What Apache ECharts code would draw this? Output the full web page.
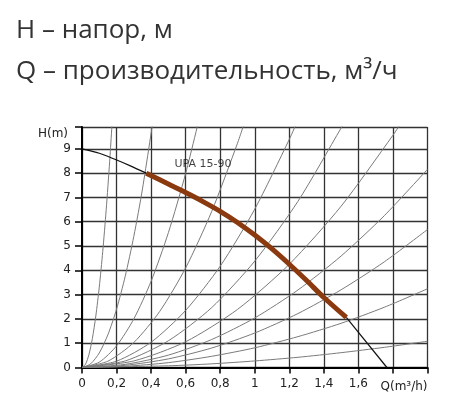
<!DOCTYPE html>
<html><head><meta charset="utf-8">
<script src="https://cdn.jsdelivr.net/npm/echarts@6/dist/echarts.min.js"></script>
<style>html,body{margin:0;padding:0;background:#fff}#c{width:450px;height:405px}</style>
</head><body><div id="c"></div>
<script>
// ---- text ----
const titleLines = ['H – напор, м', 'Q – производительность, м³/ч'];
const yAxisName = 'H(m)';
const xAxisName = 'Q(m³/h)';
const pumpName = 'UPA 15-90';
const pumpLabelAt = [0.70, 8.38];

// ---- tick labels ----
const xTickLabels = ['0', '0,2', '0,4', '0,6', '0,8', '1', '1,2', '1,4', '1,6', '', ''];
const yTickLabels = ['0', '1', '2', '3', '4', '5', '6', '7', '8', '9'];

// ---- pump curve (Q m3/h, H m) ----
const pumpStart = [[0, 9], [0.1, 8.82], [0.19, 8.57], [0.28, 8.3], [0.372, 8.0]];
const pumpWork = [[0.372, 8.0], [0.5, 7.55], [0.6, 7.2], [0.7, 6.83], [0.8, 6.43], [0.9, 5.97], [1.0, 5.45],
                  [1.1, 4.88], [1.2, 4.25], [1.3, 3.58], [1.4, 2.88], [1.53, 2.06]];
const pumpEnd = [[1.53, 2.06], [1.765, 0]];

// ---- system (resistance) curves ----
const sys1 = [[0, 0], [0.02, 0.13], [0.04, 0.53], [0.06, 1.19], [0.08, 2.12], [0.1, 3.31], [0.12, 4.77], [0.14, 6.49], [0.16, 8.47], [0.18, 10.72]];
const sys2 = [[0, 0], [0.05, 0.15], [0.1, 0.6], [0.15, 1.35], [0.2, 2.4], [0.25, 3.75], [0.3, 5.4], [0.35, 7.35], [0.42, 10.58]];
const sys3 = [[0, 0], [0.1, 0.22], [0.2, 0.89], [0.3, 2.0], [0.4, 3.55], [0.5, 5.55], [0.6, 7.99], [0.7, 10.88]];
const sys4 = [[0, 0], [0.15, 0.26], [0.3, 1.03], [0.45, 2.31], [0.6, 4.10], [0.75, 6.41], [0.9, 9.23], [0.95, 10.29]];
const sys5 = [[0, 0], [0.2, 0.26], [0.4, 1.04], [0.6, 2.35], [0.8, 4.17], [1.0, 6.52], [1.2, 9.39], [1.25, 10.19]];
const sys6 = [[0, 0], [0.25, 0.27], [0.5, 1.10], [0.75, 2.46], [1.0, 4.38], [1.25, 6.84], [1.5, 9.86], [1.52, 10.12]];
const sys7 = [[0, 0], [0.3, 0.27], [0.6, 1.06], [0.9, 2.39], [1.2, 4.25], [1.5, 6.64], [1.8, 9.56], [1.85, 10.10]];
const sys8 = [[0, 0], [0.25, 0.13], [0.5, 0.51], [0.75, 1.15], [1.0, 2.04], [1.25, 3.19], [1.5, 4.59], [1.75, 6.25], [2.0, 8.16]];
const sys9 = [[0, 0], [0.25, 0.09], [0.5, 0.355], [0.75, 0.80], [1.0, 1.42], [1.25, 2.22], [1.5, 3.2], [1.75, 4.35], [2.0, 5.68]];
const sys10 = [[0, 0], [0.25, 0.05], [0.5, 0.2], [0.75, 0.46], [1.0, 0.81], [1.25, 1.27], [1.5, 1.82], [1.75, 2.48], [2.0, 3.24]];
const sys11 = [[0, 0], [0.5, 0.07], [0.75, 0.15], [1.0, 0.27], [1.25, 0.42], [1.5, 0.61], [1.75, 0.83], [2.0, 1.08]];
const systemCurves = [sys1, sys2, sys3, sys4, sys5, sys6, sys7, sys8, sys9, sys10, sys11];

const chart = echarts.init(document.getElementById('c'), null, {renderer: 'canvas'});
const fontAx = 'DejaVu Sans';
const series = [];
systemCurves.forEach(d => series.push({
  type: 'line', data: d, smooth: 0.25, symbol: 'none', silent: true, clip: true,
  lineStyle: {color: '#7a7a7a', width: 1}, z: 2
}));
series.push({type: 'line', data: pumpStart, smooth: 0.3, symbol: 'none', lineStyle: {color: '#111', width: 1.2}, z: 3});
series.push({type: 'line', data: pumpEnd, smooth: false, symbol: 'none', lineStyle: {color: '#111', width: 1.2}, z: 3});
series.push({type: 'line', data: pumpWork, smooth: 0.3, symbol: 'none', lineStyle: {color: '#8b3a0f', width: 5, cap: 'butt'}, z: 4});
series.push({type: 'scatter', data: [pumpLabelAt], symbolSize: 0, z: 5,
  label: {show: true, position: 'inside', formatter: pumpName, fontFamily: fontAx, fontSize: 11, color: '#111'}});

chart.setOption({
  animation: false,
  backgroundColor: '#fff',
  title: {
    text: titleLines.join('\n'), left: 11, top: 5,
    textStyle: {fontFamily: 'Open Sans', fontSize: 26, fontWeight: 'normal', color: '#333', lineHeight: 41}
  },
  grid: {left: 82, right: 22.5, top: 127, bottom: 37.5, containLabel: false},
  xAxis: {
    type: 'value', min: 0, max: 2.0, interval: 0.2,
    name: xAxisName, nameLocation: 'end', nameGap: 0,
    nameTextStyle: {fontFamily: fontAx, fontSize: 12, color: '#222', align: 'right', verticalAlign: 'top', padding: [13, 0, 0, 0]},
    axisLine: {show: true, onZero: false, lineStyle: {color: '#000', width: 2}},
    axisTick: {show: true, length: 6, lineStyle: {color: '#000', width: 1.5}},
    axisLabel: {fontFamily: fontAx, fontSize: 12, color: '#222', margin: 10,
      formatter: v => { const i = Math.round(v / 0.2); return xTickLabels[i] !== undefined ? xTickLabels[i] : ''; }},
    splitLine: {show: true, lineStyle: {color: '#333', width: 1.3}}
  },
  yAxis: {
    type: 'value', min: 0, max: 9.9, interval: 1,
    name: yAxisName, nameLocation: 'end', nameGap: -7,
    nameTextStyle: {fontFamily: fontAx, fontSize: 12, color: '#222', align: 'right', verticalAlign: 'middle', padding: [0, 14, 0, 0]},
    axisLine: {show: true, onZero: false, lineStyle: {color: '#000', width: 2}},
    axisTick: {show: true, length: 7, lineStyle: {color: '#000', width: 1.5}},
    axisLabel: {fontFamily: fontAx, fontSize: 12, color: '#222', margin: 11,
      formatter: v => { const i = Math.round(v); return (Math.abs(v - i) < 1e-6 && yTickLabels[i] !== undefined) ? yTickLabels[i] : ''; }},
    splitLine: {show: true, lineStyle: {color: '#333', width: 1.3}}
  },
  series: series
});
</script></body></html>
